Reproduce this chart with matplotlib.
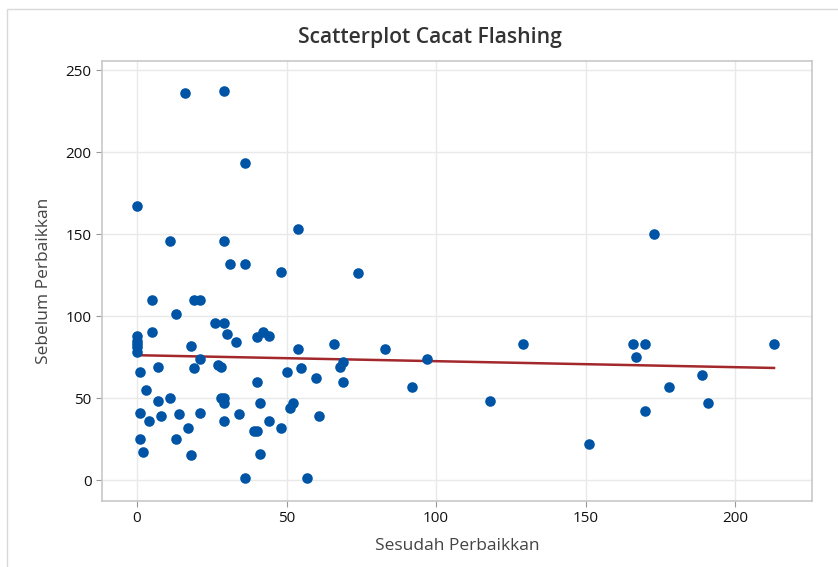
import numpy as np
import matplotlib.pyplot as plt
from matplotlib.patches import Rectangle

# data (urutan sama di kedua list)
sesudah = [0, 0, 0, 0, 0, 0,
           1, 1, 1, 2, 3, 4, 5, 5, 7, 7, 8,
           11, 11, 13, 13, 14, 16, 17, 18, 18, 19, 19,
           21, 21, 21, 26, 27, 28, 28,
           29, 29, 29, 29, 29, 29, 30, 31, 33, 34,
           36, 36, 36, 39, 40, 40, 40, 41, 41, 42, 44, 44,
           48, 48, 50, 51, 52, 54, 54, 55, 57, 60, 61,
           66, 68, 69, 69, 74, 83, 92, 97, 118, 129,
           151, 166, 167, 170, 170, 173, 178, 189, 191, 213]
sebelum = [167, 88, 85, 83, 81, 78,
           66, 41, 25, 17, 55, 36, 110, 90, 69, 48, 39,
           146, 50, 101, 25, 40, 236, 32, 15, 82, 110, 68,
           110, 74, 41, 96, 70, 69, 50,
           237, 146, 36, 96, 50, 47, 89, 132, 84, 40,
           193, 132, 1, 30, 87, 60, 30, 47, 16, 90, 88, 36,
           127, 32, 66, 44, 47, 153, 80, 68, 1, 62, 39,
           83, 69, 72, 60, 126, 80, 57, 74, 48, 83,
           22, 83, 75, 83, 42, 150, 57, 64, 47, 83]

plt.rcParams['font.family'] = ['Open Sans', 'DejaVu Sans']

fig = plt.figure(figsize=(8.38, 5.67), dpi=100)
# bingkai tipis kiri & atas seperti screenshot
fig.patches.append(Rectangle((7/838, -0.1), 1.2, 1 - 9/567 + 0.1, transform=fig.transFigure,
                             fill=False, edgecolor='#d9d9d9', linewidth=1))
ax = fig.add_axes([102/838, 1 - 501/567, 710/838, 440/567])

ax.scatter(sesudah, sebelum, s=58, color='#0054A6', zorder=3, linewidths=0)

# garis regresi
b, a = np.polyfit(sesudah, sebelum, 1)
xs = np.array([min(sesudah), max(sesudah)])
ax.plot(xs, a + b * xs, color='#A3282C', linewidth=1.8, zorder=2)

ax.set_xlim(-11.7, 225.7)
ax.set_ylim(-12.8, 255.5)
ax.set_xticks([0, 50, 100, 150, 200])
ax.set_yticks([0, 50, 100, 150, 200, 250])
ax.grid(color='#e9e9e9', linewidth=1)
ax.set_axisbelow(True)
for s in ax.spines.values():
    s.set_color('#c8c8c8')
    s.set_linewidth(1.2)
ax.tick_params(labelsize=11, colors='#111111', length=4, color='#999999')

ax.set_xlabel('Sesudah Perbaikkan', fontsize=12.5, color='#444444', labelpad=8)
ax.set_ylabel('Sebelum Perbaikkan', fontsize=12.5, color='#444444', labelpad=10)
fig.text(430/838, 1 - 37/567, 'Scatterplot Cacat Flashing', ha='center', va='center',
         fontsize=15.2, color='#333333', fontweight='semibold')

plt.savefig('out.png', dpi=100)
